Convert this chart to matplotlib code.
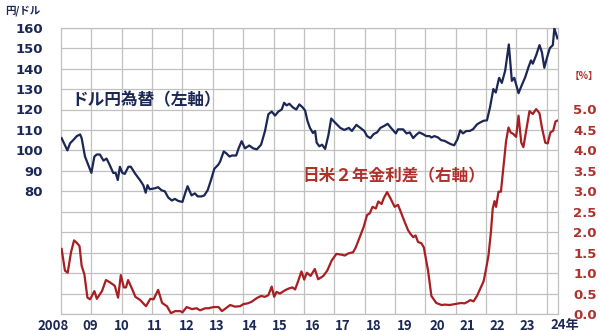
import matplotlib
matplotlib.use("Agg")
import matplotlib.pyplot as plt

# ---- data ----
yen_dates = [2008.02, 2008.21, 2008.30, 2008.40, 2008.52, 2008.63, 2008.68, 2008.79,
             2009.00, 2009.10, 2009.18, 2009.28, 2009.40, 2009.50, 2009.60, 2009.72, 2009.80, 2009.87, 2009.94,
             2010.02, 2010.10, 2010.22, 2010.30, 2010.44, 2010.60, 2010.71, 2010.79, 2010.85, 2010.92,
             2011.10, 2011.20, 2011.31, 2011.42, 2011.53, 2011.65, 2011.75, 2011.86,
             2012.00, 2012.11, 2012.17, 2012.24, 2012.30, 2012.41, 2012.50, 2012.63, 2012.72, 2012.83, 2012.94,
             2013.05, 2013.18, 2013.24, 2013.36, 2013.45, 2013.55, 2013.63, 2013.77, 2013.85, 2013.95,
             2014.06, 2014.20, 2014.33, 2014.45, 2014.59, 2014.72, 2014.83, 2014.94,
             2015.05, 2015.16, 2015.27, 2015.35, 2015.43, 2015.52, 2015.64, 2015.75, 2015.85, 2015.96,
             2016.04, 2016.12, 2016.20, 2016.30, 2016.37, 2016.42, 2016.51, 2016.60, 2016.70, 2016.81, 2016.90, 2016.98,
             2017.10, 2017.20, 2017.33, 2017.48, 2017.58, 2017.73, 2017.86, 2017.99,
             2018.08, 2018.19, 2018.30, 2018.41, 2018.52, 2018.65, 2018.76, 2018.87,
             2019.03, 2019.10, 2019.27, 2019.38, 2019.49, 2019.60, 2019.70, 2019.80, 2019.92,
             2020.03, 2020.14, 2020.20, 2020.30, 2020.42, 2020.52, 2020.63, 2020.74, 2020.85, 2020.95,
             2021.06, 2021.15, 2021.24, 2021.35, 2021.46, 2021.57, 2021.70, 2021.81, 2021.92,
             2022.03, 2022.13, 2022.24, 2022.32, 2022.43, 2022.52, 2022.63, 2022.75, 2022.85, 2022.93,
             2023.07, 2023.18, 2023.29, 2023.40, 2023.48, 2023.54, 2023.65, 2023.76, 2023.84, 2023.92,
             2024.00, 2024.10, 2024.20, 2024.25, 2024.35]
yen_values = [106, 100, 103.5, 105, 107, 107.8, 106, 97,
              89, 97, 98, 98, 95, 96, 93, 89, 89, 85.5, 92,
              89, 88.5, 92, 92, 88.7, 85.5, 83, 79.3, 83, 81,
              81.5, 82, 80.5, 80, 77, 75.5, 76.3, 75.3,
              74.8, 80, 82.5, 80, 78, 79, 77.5, 77.5, 78, 80.5, 85.5,
              91, 93, 94.5, 99.5, 98.5, 97, 97.5, 97.5, 101, 104.5,
              101, 102.4, 101, 100.5, 102.8, 109.5, 117.7, 119,
              117, 119, 120, 123.3, 122, 122.8, 121, 120, 122.5, 121,
              119.5, 114.3, 111, 108.5, 109.5, 103.8, 102, 102.8, 100.7, 107.6, 115.6, 114.3,
              112.5, 111, 110, 111, 109.5, 112.5, 111, 109.5,
              107, 106, 108, 108.8, 111, 112, 113, 111,
              108.3, 110.3, 110.3, 108.3, 108.8, 106, 107.6, 108.8, 108,
              107, 107, 106.3, 107, 106.3, 105, 104.7, 103.8, 103, 102.5,
              105.5, 109.8, 108.3, 109.5, 109.5, 110.3, 112.7, 113.7, 114.5,
              114.7, 121, 130, 128.3, 135.5, 133, 139, 151.8, 134, 135.5,
              128, 132, 135.8, 140.8, 144, 142.4, 146.5, 151.5, 148, 140.4,
              145, 150, 151.5, 159.7, 154.8]

rate_dates = [2008.02, 2008.13, 2008.22, 2008.33, 2008.43, 2008.52, 2008.61, 2008.68, 2008.77, 2008.87, 2008.96,
              2009.10, 2009.18, 2009.35, 2009.48, 2009.62, 2009.77, 2009.88, 2009.97,
              2010.07, 2010.14, 2010.21, 2010.32, 2010.45, 2010.61, 2010.80, 2010.94,
              2011.05, 2011.20, 2011.33, 2011.49, 2011.62, 2011.76, 2011.93,
              2012.00, 2012.14, 2012.31, 2012.47, 2012.58, 2012.75, 2012.86,
              2013.02, 2013.19, 2013.30, 2013.43, 2013.57, 2013.73, 2013.90,
              2014.00, 2014.15, 2014.28, 2014.45, 2014.59, 2014.72, 2014.83, 2014.94,
              2015.02, 2015.10, 2015.21, 2015.38, 2015.49, 2015.62, 2015.71, 2015.80, 2015.92,
              2016.01, 2016.10, 2016.22, 2016.36, 2016.47, 2016.64, 2016.77, 2016.91,
              2017.07, 2017.24, 2017.35, 2017.46, 2017.62, 2017.71, 2017.84, 2017.97,
              2018.08, 2018.17, 2018.26, 2018.37, 2018.45, 2018.56, 2018.63, 2018.74, 2018.85, 2018.99,
              2019.10, 2019.21, 2019.32, 2019.43, 2019.51, 2019.60, 2019.68, 2019.76, 2019.87, 2019.95,
              2020.09, 2020.20, 2020.36, 2020.53, 2020.64, 2020.80,
              2021.02, 2021.18, 2021.29, 2021.40, 2021.48, 2021.59, 2021.70, 2021.81, 2021.92,
              2022.00, 2022.08, 2022.16, 2022.22, 2022.28, 2022.33, 2022.41, 2022.49, 2022.57, 2022.66,
              2022.74, 2022.81, 2022.90, 2022.99,
              2023.07, 2023.16, 2023.23, 2023.32, 2023.43, 2023.54, 2023.65, 2023.76, 2023.84, 2023.95,
              2024.03, 2024.12, 2024.21, 2024.29, 2024.36]
rate_values = [1.59, 1.06, 1.01, 1.51, 1.80, 1.74, 1.66, 1.18, 0.97, 0.40, 0.36,
               0.56, 0.37, 0.56, 0.83, 0.77, 0.69, 0.40, 0.95,
               0.65, 0.65, 0.83, 0.65, 0.42, 0.34, 0.19, 0.37,
               0.36, 0.59, 0.27, 0.19, 0.02, 0.07, 0.07,
               0.04, 0.17, 0.12, 0.14, 0.09, 0.14, 0.14,
               0.17, 0.17, 0.07, 0.14, 0.22, 0.18, 0.19,
               0.24, 0.26, 0.30, 0.39, 0.44, 0.42, 0.46, 0.67,
               0.42, 0.54, 0.50, 0.58, 0.62, 0.65, 0.60, 0.78, 1.04,
               0.84, 1.01, 0.93, 1.10, 0.85, 0.93, 1.06, 1.30,
               1.47, 1.45, 1.43, 1.48, 1.51, 1.63, 1.88, 2.13,
               2.42, 2.46, 2.62, 2.58, 2.75, 2.69, 2.83, 2.98, 2.83, 2.62,
               2.67, 2.46, 2.25, 2.05, 1.96, 1.88, 1.92, 1.76, 1.73, 1.63,
               1.06, 0.44, 0.27, 0.22, 0.23, 0.22,
               0.25, 0.27, 0.26, 0.30, 0.34, 0.31, 0.44, 0.62, 0.80,
               1.10, 1.43, 2.00, 2.58, 2.76, 2.62, 2.99, 2.99, 3.57, 4.23,
               4.56, 4.44, 4.40, 4.33,
               4.85, 4.19, 4.08, 4.48, 4.96, 4.89, 5.01, 4.91, 4.56, 4.19,
               4.17, 4.44, 4.48, 4.71, 4.73]

year_ticks = list(range(2009, 2025))
year_labels = ["2008", "09", "10", "11", "12", "13", "14", "15", "16", "17",
               "18", "19", "20", "21", "22", "23", "24年"]
yen_ticks = list(range(20, 161, 10))
rate_ticks = [0.0, 0.5, 1.0, 1.5, 2.0, 2.5, 3.0, 3.5, 4.0, 4.5, 5.0]

# ---- style ----
NAVY = "#1b2754"
RED = "#a81e22"
RED_TXT = "#b0302c"
GRID = "#c0c0c0"
CJK = ["Noto Sans CJK JP", "DejaVu Sans"]

fig = plt.figure(figsize=(6.0, 3.31), dpi=100)
ax = fig.add_axes([61 / 600, 1 - 314 / 331, (558 - 61) / 600, (314 - 27.7) / 331])
ax.set_xlim(2008, 2024.37)
ax.set_ylim(20, 160)
ax.set_xticks(year_ticks)
ax.set_xticklabels([])
ax.set_yticks(yen_ticks)
ax.set_yticklabels([str(v) if v >= 80 else "" for v in yen_ticks],
                   fontsize=9.5, fontweight="bold", color=NAVY, family="DejaVu Sans")
ax.tick_params(axis="both", length=0)
ax.tick_params(axis="y", pad=13)
ax.grid(True, color=GRID, linewidth=0.9)
ax.set_axisbelow(True)
for s in ax.spines.values():
    s.set_color(GRID)
    s.set_linewidth(0.9)

ax.plot(yen_dates, yen_values, color=NAVY, linewidth=1.6, zorder=3)

ax2 = ax.twinx()
ax2.set_ylim(0, 7)
ax2.set_yticks(rate_ticks)
ax2.set_yticklabels([f"{v:.1f}" for v in rate_ticks],
                    fontsize=9.5, fontweight="bold", color=RED_TXT, family="DejaVu Sans")
ax2.tick_params(axis="y", length=0, pad=11)
for s in ax2.spines.values():
    s.set_visible(False)
ax2.plot(rate_dates, rate_values, color=RED, linewidth=1.6, zorder=3)

# x labels (placed just under the axis, with the reference's slight drift)
label_px = [53, 90, 122, 155, 187, 217, 250, 280, 313, 343, 374, 405, 437, 467, 497, 527, 565]
for lab, px in zip(year_labels, label_px):
    fig.text(px / 600, 1 - 325.5 / 331, lab, ha="center", va="center",
             fontsize=9.5, fontweight="bold", color=NAVY, family=CJK)

fig.text(5 / 600, 1 - 11 / 331, "円/ドル", ha="left", va="center",
         fontsize=7.5, fontweight="bold", color=NAVY, family=CJK)
fig.text(584 / 600, 1 - 76 / 331, "【%】", ha="center", va="center",
         fontsize=7, fontweight="bold", color=RED_TXT, family=CJK)

fig.text(71 / 600, 1 - 100 / 331, "ドル円為替（左軸）", ha="left", va="center",
         fontsize=12, fontweight="bold", color=NAVY, family=CJK)
fig.text(302 / 600, 1 - 176 / 331, "日米２年金利差（右軸）", ha="left", va="center",
         fontsize=12, fontweight="bold", color=RED_TXT, family=CJK)

fig.savefig("out.png", dpi=100)
